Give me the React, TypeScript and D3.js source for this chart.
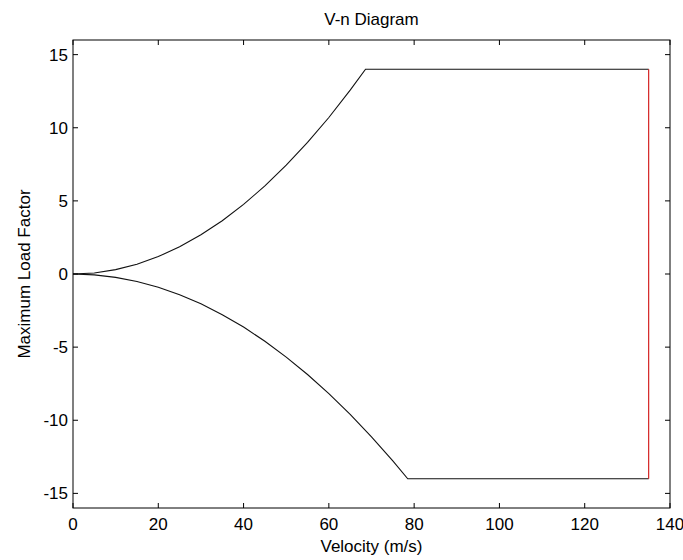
import React, { useRef, useEffect } from "react";
import * as d3 from "d3";

// velocity (m/s) readings along the positive-g stall curve
const upperV = [0, 5, 10, 15, 20, 25, 30, 35, 40, 45, 50, 55, 60, 65, 68.6];
const upperN = [0, 0.07, 0.3, 0.67, 1.19, 1.86, 2.68, 3.64, 4.76, 6.02, 7.44, 9.0, 10.7, 12.57, 14];
// negative-g stall curve
const lowerV = [0, 5, 10, 15, 20, 25, 30, 35, 40, 45, 50, 55, 60, 65, 70, 75, 78.5];
const lowerN = [0, -0.06, -0.23, -0.51, -0.91, -1.42, -2.04, -2.78, -3.63, -4.6, -5.68, -6.87, -8.18, -9.6, -11.13, -12.78, -14];
const nMax = 14;
const nMin = -14;
const vDive = 135;

const xTicks = [0, 20, 40, 60, 80, 100, 120, 140];
const yTicks = [-15, -10, -5, 0, 5, 10, 15];

export default function App() {
  const ref = useRef<SVGSVGElement>(null);
  const width = 683;
  const height = 560;

  useEffect(() => {
    const svg = d3.select(ref.current);
    svg.selectAll("*").remove();
    const m = { left: 73, right: 13, top: 40, bottom: 52 };
    const x = d3.scaleLinear().domain([0, 140]).range([m.left, width - m.right]);
    const y = d3.scaleLinear().domain([-16, 16]).range([height - m.bottom, m.top]);
    const font = "'Liberation Sans', Arial, sans-serif";
    const fs = 17;

    svg.append("rect").attr("width", width).attr("height", height).attr("fill", "#fff");

    const line = d3.line<[number, number]>().x(d => x(d[0])).y(d => y(d[1]));

    const upper: [number, number][] = upperV.map((v, i) => [v, upperN[i]]);
    upper.push([vDive, nMax]);
    const lower: [number, number][] = lowerV.map((v, i) => [v, lowerN[i]]);
    lower.push([vDive, nMin]);

    svg.append("path").attr("d", line(upper)).attr("fill", "none").attr("stroke", "#111").attr("stroke-width", 1.1);
    svg.append("path").attr("d", line(lower)).attr("fill", "none").attr("stroke", "#111").attr("stroke-width", 1.1);
    svg.append("path").attr("d", line([[vDive, nMax], [vDive, nMin]]))
      .attr("fill", "none").attr("stroke", "#d01010").attr("stroke-width", 1.1);

    // axes box
    const x0 = x(0), x1 = x(140), y0 = y(-16), y1 = y(16);
    svg.append("rect").attr("x", x0).attr("y", y1).attr("width", x1 - x0).attr("height", y0 - y1)
      .attr("fill", "none").attr("stroke", "#000").attr("stroke-width", 1);

    const tl = 5;
    const g = svg.append("g").attr("stroke", "#000").attr("stroke-width", 1);
    xTicks.forEach(t => {
      g.append("line").attr("x1", x(t)).attr("x2", x(t)).attr("y1", y0).attr("y2", y0 - tl);
      g.append("line").attr("x1", x(t)).attr("x2", x(t)).attr("y1", y1).attr("y2", y1 + tl);
    });
    yTicks.forEach(t => {
      g.append("line").attr("x1", x0).attr("x2", x0 + tl).attr("y1", y(t)).attr("y2", y(t));
      g.append("line").attr("x1", x1).attr("x2", x1 - tl).attr("y1", y(t)).attr("y2", y(t));
    });

    svg.selectAll("text.xt").data(xTicks).enter().append("text")
      .attr("x", d => x(d)).attr("y", 530)
      .attr("text-anchor", "middle").attr("font-family", font).attr("font-size", fs).attr("fill", "#000")
      .text(d => d);
    svg.selectAll("text.yt").data(yTicks).enter().append("text")
      .attr("x", x0 - 5).attr("y", d => y(d) + 6)
      .attr("text-anchor", "end").attr("font-family", font).attr("font-size", fs).attr("fill", "#000")
      .text(d => d);

    svg.append("text").attr("x", (x0 + x1) / 2).attr("y", 25)
      .attr("text-anchor", "middle").attr("font-family", font).attr("font-size", fs).attr("fill", "#000")
      .text("V-n Diagram");
    svg.append("text").attr("x", (x0 + x1) / 2).attr("y", 552)
      .attr("text-anchor", "middle").attr("font-family", font).attr("font-size", fs).attr("fill", "#000")
      .text("Velocity (m/s)");
    svg.append("text").attr("transform", `translate(30,${(y0 + y1) / 2}) rotate(-90)`)
      .attr("text-anchor", "middle").attr("font-family", font).attr("font-size", fs).attr("fill", "#000")
      .text("Maximum Load Factor");
  }, []);

  return <svg ref={ref} width={width} height={height} style={{ position: "absolute", left: 0, top: 0 }} />;
}
